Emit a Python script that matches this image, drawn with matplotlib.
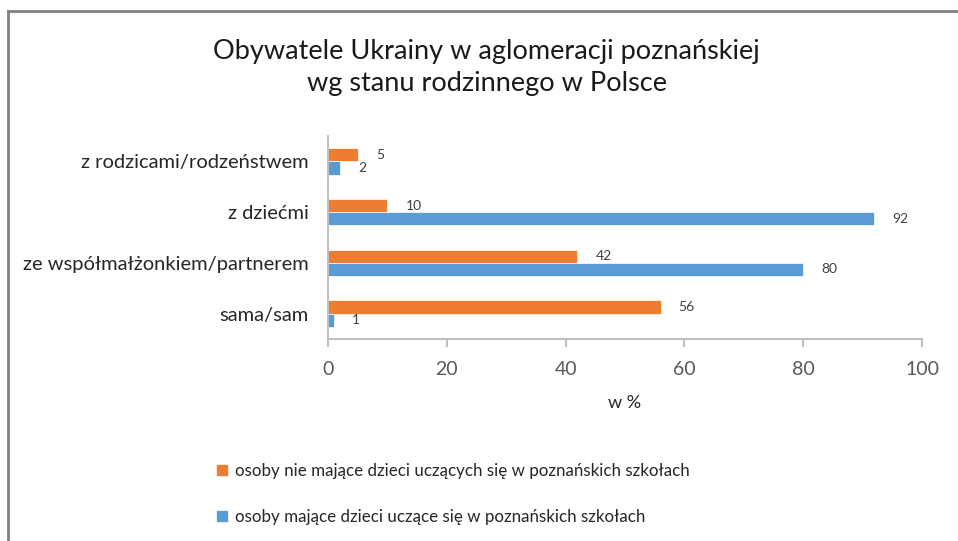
import numpy as np
import matplotlib
matplotlib.use("Agg")
import matplotlib.pyplot as plt
from matplotlib.lines import Line2D

plt.rcParams["font.family"] = ["Lato", "DejaVu Sans"]

categories = ["sama/sam", "ze współmałżonkiem/partnerem", "z dziećmi", "z rodzicami/rodzeństwem"]
without_kids = [56, 42, 10, 5]   # osoby nie mające dzieci uczących się ...
with_kids = [1, 80, 92, 2]       # osoby mające dzieci uczące się ...
series_names = ["osoby nie mające dzieci uczących się w poznańskich szkołach",
                "osoby mające dzieci uczące się w poznańskich szkołach"]
xticks = [0, 20, 40, 60, 80, 100]

orange = "#ED7D31"
blue = "#5B9BD5"

fig = plt.figure(figsize=(9.58, 5.41), dpi=100)
ax = fig.add_axes([0.3424, 0.3734, 0.62, 0.3752])

y = np.arange(len(categories))
h = 0.26
b1 = ax.barh(y + h / 2, without_kids, height=h, color=orange, edgecolor="white", linewidth=0.5)
b2 = ax.barh(y - h / 2, with_kids, height=h, color=blue, edgecolor="white", linewidth=0.5)

for bars, vals in ((b1, without_kids), (b2, with_kids)):
    for bar, v in zip(bars, vals):
        ax.annotate(str(v), (bar.get_width(), bar.get_y() + bar.get_height() / 2),
                    xytext=(13, 0), textcoords="offset points", ha="left", va="center",
                    fontsize=10, color="#404040")

ax.set_xlim(0, 100)
ax.set_ylim(-0.5, 3.5)
ax.set_xticks(xticks)
ax.set_yticks(y)
ax.set_yticklabels(categories, fontsize=14.5, color="#262626")
ax.tick_params(axis="y", length=0, pad=14)
ax.tick_params(axis="x", length=6, width=1.5, color="#BFBFBF", labelsize=14,
               labelcolor="#595959", direction="out", pad=10)
for s in ["top", "right"]:
    ax.spines[s].set_visible(False)
ax.spines["bottom"].set_color("#BFBFBF")
ax.spines["bottom"].set_linewidth(1.5)
ax.spines["left"].set_color("#BFBFBF")
ax.spines["left"].set_linewidth(1.5)
ax.set_xlabel("w %", fontsize=13, color="#262626", labelpad=12)

fig.text(0.508, 0.876, "Obywatele Ukrainy w aglomeracji poznańskiej\nwg stanu rodzinnego w Polsce",
         ha="center", va="center", fontsize=19.5, color="#1a1a1a", linespacing=1.35)

fig.legend([b1, b2], series_names, loc="upper left", bbox_to_anchor=(0.21, 0.172),
           frameon=False, fontsize=12.2, handlelength=0.7, handleheight=0.7,
           handletextpad=0.4, labelspacing=1.75, labelcolor="#262626")

# frame around the picture (left and top edge)
fig.add_artist(Line2D([8 / 958, 8 / 958], [0, 1 - 11 / 541], transform=fig.transFigure,
                      color="#808080", linewidth=2))
fig.add_artist(Line2D([8 / 958, 1], [1 - 11 / 541, 1 - 11 / 541], transform=fig.transFigure,
                      color="#808080", linewidth=2))

fig.savefig("out.png", dpi=100)
